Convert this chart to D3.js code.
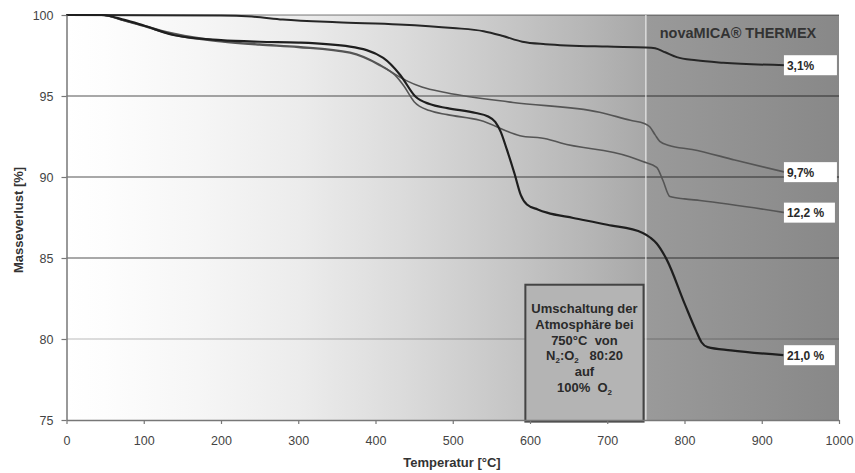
<!DOCTYPE html>
<html>
<head>
<meta charset="utf-8">
<script src="https://cdn.jsdelivr.net/npm/d3@7/dist/d3.min.js"></script>
<style>
    body { margin: 0; background: #fff; }
    svg { display: block; font-family: "Liberation Sans", Arial, sans-serif; }
</style>
</head>
<body>
<div id="chart"></div>
<script>
// TGA curves: [temperature °C, mass %]
const seriesA = [[0,100],[200,99.97],[240,99.9],[280,99.72],[350,99.55],[430,99.42],[500,99.2],[540,99.0],[565,98.7],[590,98.35],[620,98.2],[700,98.05],[750,98.0],[762,97.95],[775,97.7],[790,97.4],[815,97.2],[850,97.05],[930,96.9]];
const seriesB = [[0,100],[45,100],[75,99.65],[100,99.35],[140,98.85],[200,98.4],[250,98.2],[300,98.05],[367,97.7],[405,96.95],[425,96.35],[440,95.95],[460,95.55],[492,95.2],[578,94.6],[690,94.0],[730,93.5],[748,93.3],[755,93.1],[762,92.6],[768,92.2],[780,91.95],[810,91.7],[865,91.05],[930,90.3]];
const seriesC = [[0,100],[45,100],[75,99.65],[100,99.3],[140,98.75],[200,98.35],[250,98.15],[300,98.0],[367,97.65],[405,96.9],[425,96.3],[437,95.6],[450,94.65],[470,94.1],[493,93.85],[535,93.5],[587,92.55],[622,92.35],[640,92.1],[729,91.25],[746,90.95],[764,90.6],[772,89.8],[781,88.8],[800,88.65],[820,88.55],[930,87.8]];
const seriesD = [[0,100],[45,100],[75,99.7],[100,99.35],[140,98.75],[200,98.45],[250,98.35],[300,98.3],[367,98.05],[410,97.35],[432,96.3],[452,94.95],[470,94.5],[493,94.25],[530,93.95],[545,93.75],[555,93.4],[562,92.8],[570,91.7],[580,90.2],[588,88.9],[596,88.3],[610,88.0],[622,87.8],[656,87.47],[700,87.05],[746,86.55],[756,86.25],[764,85.9],[777,84.9],[800,82.2],[815,80.5],[822,79.8],[830,79.5],[860,79.3],[928,79.0]];

const endLabels = ["3,1%", "9,7%", "12,2 %", "21,0 %"];
const xTicks = [0,100,200,300,400,500,600,700,800,900,1000];
const yTicks = [75,80,85,90,95,100];
const switchTemp = 750;
const noteLines = ["Umschaltung der", "Atmosphäre bei", "750°C  von", "N2:O2   80:20", "auf", "100%  O2"];

const width = 855, height = 473;
const mLeft = 66.5, mRight = 839, mTop = 15, mBottom = 420;

const svg = d3.select("#chart").append("svg")
    .attr("width", width)
    .attr("height", height);

const x = d3.scaleLinear().domain([0, 1000]).range([mLeft, mRight]);
const y = d3.scaleLinear().domain([75, 100]).range([mBottom, mTop]);

// background gradient, darker after the gas switch
const grad = svg.append("defs").append("linearGradient")
    .attr("id", "bg").attr("x1", 0).attr("x2", 1).attr("y1", 0).attr("y2", 0);
[[0,"#ffffff"],[0.05,"#fdfdfd"],[0.17,"#f6f6f6"],[0.3,"#ececec"],[0.43,"#dcdcdc"],
 [0.56,"#c8c8c8"],[0.69,"#b3b3b3"],[0.749,"#a8a8a8"],[0.75,"#9a9a9a"],[1,"#888888"]]
    .forEach(s => grad.append("stop").attr("offset", s[0]).attr("stop-color", s[1]));

svg.append("rect")
    .attr("x", mLeft).attr("y", mTop)
    .attr("width", mRight - mLeft).attr("height", mBottom - mTop)
    .attr("fill", "url(#bg)");

// grid
svg.append("g").selectAll("line")
    .data(yTicks.filter(d => d > 75))
    .enter().append("line")
    .attr("x1", mLeft).attr("x2", mRight)
    .attr("y1", d => y(d)).attr("y2", d => y(d))
    .attr("stroke", "#000")
    .attr("stroke-opacity", d => d === 80 ? 0.18 : (d === 100 ? 0.35 : 0.45))
    .attr("stroke-width", 1.3);

// vertical line at switch temperature
svg.append("line")
    .attr("x1", x(switchTemp)).attr("x2", x(switchTemp))
    .attr("y1", mTop).attr("y2", mBottom)
    .attr("stroke", "#ececec").attr("stroke-width", 1.2);

// annotation box
const boxX0 = x(594), boxX1 = x(747), boxY0 = y(83.35), boxY1 = y(74.9);
svg.append("rect")
    .attr("x", boxX0).attr("y", boxY0)
    .attr("width", boxX1 - boxX0).attr("height", boxY1 - boxY0)
    .attr("fill", "#b4b4b4")
    .attr("stroke", "#444").attr("stroke-width", 2);

const note = svg.append("text")
    .attr("text-anchor", "middle")
    .style("font-size", "13px")
    .style("font-weight", "bold")
    .style("white-space", "pre")
    .style("fill", "#2a2a2a");

noteLines.forEach((t, i) => {
    const ty = 313 + i * 15.8;
    const row = note.append("tspan").attr("x", (boxX0 + boxX1) / 2).attr("y", ty);
    // O2 / N2 get a small lowered 2
    let shift = 0;
    t.split(/(?<=[NO])(2)/).forEach(part => {
        if (part === "2") {
            row.append("tspan").attr("dy", 2.5).style("font-size", "8px").text("2");
            shift = -2.5;
        } else if (part.length) {
            row.append("tspan").attr("dy", shift).text(part);
            shift = 0;
        }
    });
});

// curves
const line = d3.line()
    .x(d => x(d[0]))
    .y(d => y(d[1]))
    .curve(d3.curveMonotoneX);

const curves = [
    {data: seriesB, color: "#555", w: 1.6},
    {data: seriesC, color: "#555", w: 1.6},
    {data: seriesA, color: "#262626", w: 2},
    {data: seriesD, color: "#1e1e1e", w: 2.2}
];

svg.append("g").selectAll("path")
    .data(curves)
    .enter().append("path")
    .attr("d", d => line(d.data))
    .attr("fill", "none")
    .attr("stroke", d => d.color)
    .attr("stroke-width", d => d.w)
    .attr("stroke-linejoin", "round");

// end labels
const ends = [seriesA, seriesB, seriesC, seriesD].map((s, i) => ({
    label: endLabels[i], v: s[s.length - 1][1]
}));

const lab = svg.append("g").selectAll("g")
    .data(ends)
    .enter().append("g")
    .attr("transform", d => `translate(${x(930) - 1},${y(d.v)})`);

lab.append("rect")
    .attr("x", 0).attr("y", -10)
    .attr("width", d => d.label.length > 4 ? 51 : 53).attr("height", 20)
    .attr("fill", "#fff");

lab.append("text")
    .attr("x", 3).attr("y", 4.5)
    .style("font-size", "12px")
    .style("font-weight", "bold")
    .style("fill", "#2a2a2a")
    .text(d => d.label);

// title
svg.append("text")
    .attr("x", 738).attr("y", 38)
    .attr("text-anchor", "middle")
    .style("font-size", "14.5px")
    .style("font-weight", "bold")
    .style("fill", "#333")
    .text("novaMICA® THERMEX");

// axes
const yAxis = svg.append("g")
    .attr("transform", `translate(${mLeft},0)`)
    .call(d3.axisLeft(y).tickValues(yTicks).tickSize(5).tickSizeOuter(0).tickPadding(8));

const xAxis = svg.append("g")
    .attr("transform", `translate(0,${mBottom})`)
    .call(d3.axisBottom(x).tickValues(xTicks).tickFormat(d3.format("d"))
        .tickSize(4).tickSizeOuter(0).tickPadding(12));

[xAxis, yAxis].forEach(g => {
    g.select(".domain").attr("stroke", "#777").attr("stroke-width", 1.5);
    g.selectAll(".tick line").attr("stroke", "#777").attr("stroke-width", 1.2);
    g.selectAll(".tick text")
        .style("font-size", "12.5px")
        .style("font-family", "'Liberation Sans', Arial, sans-serif")
        .style("fill", "#444");
});

// axis titles
svg.append("text")
    .attr("x", 452).attr("y", 467)
    .attr("text-anchor", "middle")
    .style("font-size", "13px")
    .style("font-weight", "bold")
    .style("fill", "#333")
    .text("Temperatur [°C]");

svg.append("text")
    .attr("transform", "rotate(-90)")
    .attr("x", -220).attr("y", 23)
    .attr("text-anchor", "middle")
    .style("font-size", "13px")
    .style("font-weight", "bold")
    .style("fill", "#333")
    .text("Masseverlust [%]");
</script>
</body>
</html>
